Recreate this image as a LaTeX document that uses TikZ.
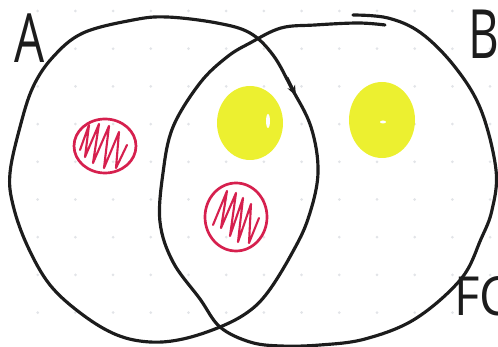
\documentclass[tikz,border=0pt]{standalone}
\usepackage{fontspec}
\setsansfont{Open Sans}
\usepackage{xcolor}
\definecolor{vdink}{RGB}{28,28,28}
\definecolor{vdred}{RGB}{214,32,78}
\definecolor{vdyellow}{RGB}{236,240,48}
\definecolor{vddot}{RGB}{226,228,232}
\usetikzlibrary{arrows.meta,calc}
\tikzset{
  setline/.style={draw=vdink, line width=2.7pt, line cap=round, line join=round},
  redblob/.style={draw=vdred, line width=2.3pt, line cap=round, line join=round},
  scribble/.style={draw=vdred, line width=1.8pt, line cap=round, line join=round},
  yellowblob/.style={fill=vdyellow, draw=none},
  setlabel/.style={font=\sffamily\fontsize{#1}{#1}\selectfont, text=vdink,
                   inner sep=0pt, xscale=0.7},
}

\begin{document}
\begin{tikzpicture}[x=0.03cm, y=-0.03cm]
\useasboundingbox (0,0) rectangle (498,347);

% dotted paper
\foreach \i in {1,...,13}
  \foreach \j in {0,...,9}
    \fill[vddot] (37.7*\i, 11+37.7*\j) circle (1.5);

% yellow dots
\fill[yellowblob] (250,123) ellipse [x radius=33, y radius=37];
\fill[yellowblob] (382,120) ellipse [x radius=33, y radius=38];
\fill[white] (268,121) ellipse [x radius=2, y radius=7];
\fill[white] (383,122) ellipse [x radius=3, y radius=1.5];

% red hatched dots
\draw[redblob] (105,146) ellipse [x radius=31, y radius=27];
\draw[scribble] plot coordinates {(80,150) (89,125) (85,157) (99,124) (93,163)
  (109,126) (104,168) (119,132) (116,168) (127,145)};
\draw[redblob] (236,217) ellipse [x radius=31, y radius=34];
\draw[scribble] plot coordinates {(213,225) (227,191) (221,228) (236,193) (230,236)
  (243,198) (238,242) (251,204) (249,243) (259,218)};

% set A
\draw[setline] plot[smooth cycle, tension=0.6] coordinates {(10,173) (20,127) (33,87)
  (53,57) (83,33) (133,20) (167,17) (217,23) (250,33) (273,55) (291,87) (311,127)
  (318,173) (308,219) (291,255) (268,292) (248,312) (220,327) (183,339) (150,342)
  (117,335) (83,315) (50,285) (27,245) (13,205)};
\coordinate (arrA1) at (287,78);
\coordinate (arrA2) at (296,96);
\draw[setline, -{Stealth[length=9pt, width=7pt]}] (arrA1) -- (arrA2);

% set B
\draw[setline] plot[smooth, tension=0.6] coordinates {(353,15) (388,18) (421,33)
  (455,67) (481,110) (496,170) (492,210) (481,239) (461,279) (415,319) (365,339)
  (320,345) (281,346) (250,342) (220,327) (200,299) (173,262) (160,222) (163,173)
  (173,127) (200,83) (227,57) (250,43) (281,28) (315,25) (358,23) (385,25)};

% labels
\node[setlabel=58] (labA) at (30,38) {A};
\node[setlabel=58] (labB) at (484,34) {B};
\node[setlabel=46, xscale=1.3, anchor=west] (labFC) at (454,296) {FC};

\end{tikzpicture}
\end{document}
